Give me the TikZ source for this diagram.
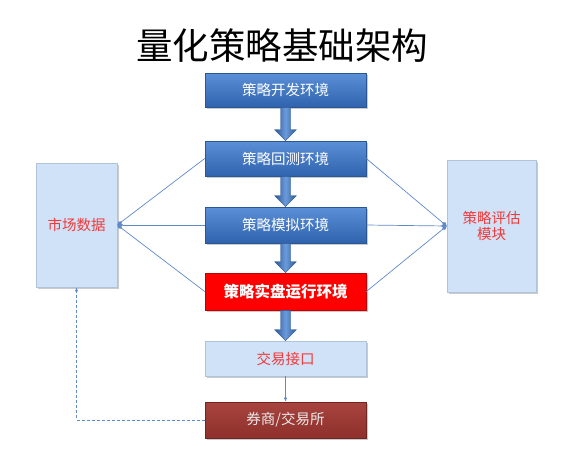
\documentclass[tikz,border=0pt]{standalone}
\usepackage{fontspec}
\newfontfamily\cjk{Noto Sans CJK SC}
\usetikzlibrary{arrows.meta,shadows,calc}
\definecolor{bluetop}{HTML}{5B90D8}
\definecolor{bluebot}{HTML}{2F63AD}
\definecolor{blueedge}{HTML}{2A5793}
\definecolor{lightfill}{HTML}{CFE2F8}
\definecolor{lightedge}{HTML}{AFC3DB}
\definecolor{linecol}{HTML}{5F8AC6}
\definecolor{txtred}{HTML}{F23A3A}
\definecolor{brtop}{HTML}{A8443E}
\definecolor{brbot}{HTML}{8E302C}
\definecolor{bredge}{HTML}{6E2623}
\tikzset{
  base/.style={minimum width=161pt, inner sep=0pt, font=\cjk\fontsize{14.5}{16}\selectfont,
    drop shadow={shadow xshift=1.5pt, shadow yshift=-1.5pt, opacity=0.35, fill=black!60}},
  bluebox/.style={base, top color=bluetop, bottom color=bluebot, draw=blueedge, line width=0.6pt, text=white},
  redbox/.style={base, fill=red, draw=red!75!black, line width=0.6pt, text=white, font=\cjk\fontsize{15.5}{16}\selectfont\bfseries},
  lightbox/.style={base, fill=lightfill, draw=lightedge, line width=0.6pt, text=txtred},
  brownbox/.style={base, top color=brtop, bottom color=brbot, draw=bredge, line width=0.6pt, text=white!92!black},
  blockarr/.style={left color=blueedge, right color=blueedge, middle color=bluetop!90!white, draw=blueedge, line width=0.4pt},
  conn/.style={draw=linecol, line width=0.7pt},
  tipend/.style={-{Diamond[length=6pt,width=4pt]}},
}
\newcommand\blk[2]{%
  \path[blockarr] ($(#1.south)+(-5,0)$) -- ($(#2.north)+(-5,-11)$) -- ($(#2.north)+(-11,-11)$) -- (#2.north)
   -- ($(#2.north)+(11,-11)$) -- ($(#2.north)+(5,-11)$) -- ($(#1.south)+(5,0)$) -- cycle;}
\begin{document}
\begin{tikzpicture}[x=1pt,y=-1pt]
\useasboundingbox (0,0) rectangle (575,448);
\node (title) at (282,46) {\cjk\fontsize{36.5}{38}\selectfont 量化策略基础架构};
\node[bluebox, minimum height=34pt] (b1) at (285.5,90) {策略开发环境};
\node[bluebox, minimum height=35pt] (b2) at (285.5,158.5) {策略回测环境};
\node[bluebox, minimum height=36pt] (b3) at (285.5,225) {策略模拟环境};
\node[redbox, minimum height=37pt] (b4) at (285.5,291.5) {策略实盘运行环境};
\node[lightbox, minimum height=35pt] (b5) at (285.5,358.5) {交易接口};
\node[brownbox, minimum height=36pt] (b6) at (285.5,420) {券商/交易所};
\node[lightbox, minimum width=81pt, minimum height=124pt] (mkt) at (76.5,225) {市场数据};
\node[lightbox, minimum width=89pt, minimum height=132pt, align=center] (eval) at (491.5,226) {策略评估\\模块};
\blk{b1}{b2}
\blk{b2}{b3}
\blk{b3}{b4}
\blk{b4}{b5}
\draw[conn, -{Latex[length=4pt,width=3.5pt]}] (b5.south) -- (b6.north);
\draw[conn, tipend] (b2.west) -- (mkt.east);
\draw[conn, tipend] (b3.west) -- (mkt.east);
\draw[conn, tipend] (b4.west) -- (mkt.east);
\draw[conn, tipend] (b2.east) -- (eval.west);
\draw[conn, tipend] (b3.east) -- (eval.west);
\draw[conn, tipend] (b4.east) -- (eval.west);
\draw[conn, dashed, dash pattern=on 3pt off 2pt, -{Latex[length=4pt,width=3.5pt]}] (b6.west) -| (mkt.south);
\end{tikzpicture}
\end{document}
